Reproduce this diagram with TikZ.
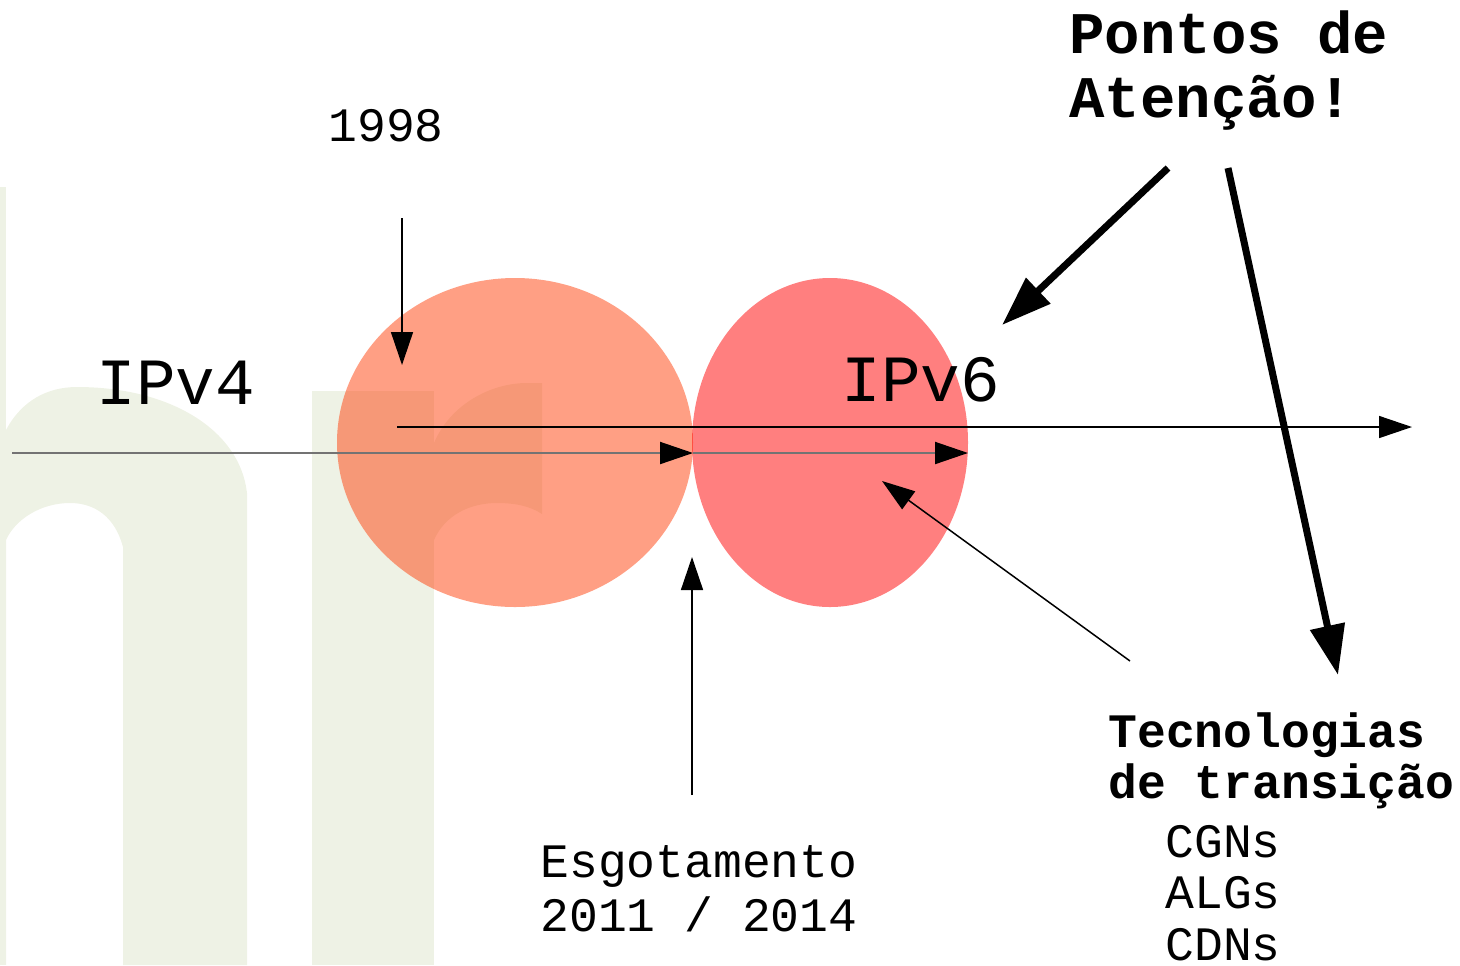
\documentclass[tikz,border=0pt]{standalone}
\usepackage{fontspec}
\setmainfont{Liberation Mono}
\usetikzlibrary{arrows.meta,shapes.geometric}
\definecolor{marca}{RGB}{238,242,229}
\definecolor{laranja}{RGB}{255,64,10}
\definecolor{vermelho}{RGB}{255,0,0}

\begin{document}
\begin{tikzpicture}[x=0.5pt,y=-0.5pt]
\tikzstyle{every node}+=[inner sep=0pt]
\tikzstyle{fina}=[line width=0.75pt,-{Triangle[length=16.5pt,width=11pt]}]
\tikzstyle{cinza}=[line width=1pt,draw=black!55,-{Triangle[length=16.5pt,width=11pt,color=black]}]
\tikzstyle{grossa}=[line width=3.5pt,-{Triangle[length=25pt,width=17pt]}]
\tikzstyle{bolha}=[ellipse,fill opacity=0.5,minimum height=164.5pt]
\tikzstyle{rotulo}=[anchor=base west]
\tikzstyle{grande}=[rotulo,font=\fontsize{33}{33}\selectfont]
\tikzstyle{media}=[rotulo,font=\fontsize{24}{24}\selectfont]
\tikzstyle{titulo}=[rotulo,font=\fontsize{29.5}{29.5}\selectfont\bfseries]

\useasboundingbox (0,0) rectangle (1460,965);

% marca d'agua ao fundo
\fill[marca] (0,187) rectangle (6,965);
\fill[marca] (6,965) -- (6,430) .. controls (22,400) and (48,387) .. (77,387)
  .. controls (170,387) and (240,430) .. (247,493) -- (247,965) -- (123,965) -- (123,547)
  .. controls (115,517) and (95,503) .. (70,503) .. controls (40,503) and (15,520) .. (6,540) -- cycle;
\fill[marca] (312,391) rectangle (434,965);
\fill[marca] (434,443) .. controls (450,405) and (490,383) .. (527,383) -- (542,383) -- (542,514)
  .. controls (530,506) and (515,503) .. (497,503) .. controls (470,503) and (445,515) .. (434,540) -- cycle;

% bolhas
\node[bolha,fill=laranja,minimum width=178pt] (v4) at (515,442.5) {};
\node[bolha,fill=vermelho,minimum width=138pt] (v6) at (830,442.5) {};

% pontas livres
\coordinate (ini4) at (12,453);
\coordinate (fim4) at (693,453);
\coordinate (fim6) at (968,453);
\coordinate (iniT) at (397,427);
\coordinate (fimT) at (1412,427);
\coordinate (a98) at (402,218);
\coordinate (b98) at (402,365);
\coordinate (aEsg) at (692,795);
\coordinate (bEsg) at (692,557);
\coordinate (aTec) at (1130,661);
\coordinate (bTec) at (882,481);
\coordinate (aP1) at (1168,168);
\coordinate (bP1) at (1002,325);
\coordinate (aP2) at (1228,168);
\coordinate (bP2) at (1338,675);

\draw[cinza] (ini4) -- (fim4);
\draw[cinza] (fim4) -- (fim6);
\draw[fina] (iniT) -- (fimT);
\draw[fina] (a98) -- (b98);
\draw[fina] (aEsg) -- (bEsg);
\draw[fina] (aTec) -- (bTec);
\draw[grossa] (aP1) -- (bP1);
\draw[grossa] (aP2) -- (bP2);

% textos
\draw (328,141) node[media] (ano) {1998};
\draw (96,404) node[grande] (ipv4) {IPv4};
\draw (841,401) node[grande] (ipv6) {IPv6};

\draw (1069,53) node[titulo] (pontos) {Pontos de};
\draw (1069,117) node[titulo] (atencao) {Atenção!};

\draw (1108,747) node[media,font=\fontsize{24}{24}\selectfont\bfseries] (tecno) {Tecnologias};
\draw (1108,798) node[media,font=\fontsize{24}{24}\selectfont\bfseries] (transicao) {de transição};
\draw (1165,857) node[media] (cgns) {CGNs};
\draw (1165,908) node[media] (algs) {ALGs};
\draw (1165,960) node[media] (cdns) {CDNs};

\draw (540,877) node[media] (esgot) {Esgotamento};
\draw (540,931) node[media] (datas) {2011 / 2014};
\end{tikzpicture}
\end{document}
